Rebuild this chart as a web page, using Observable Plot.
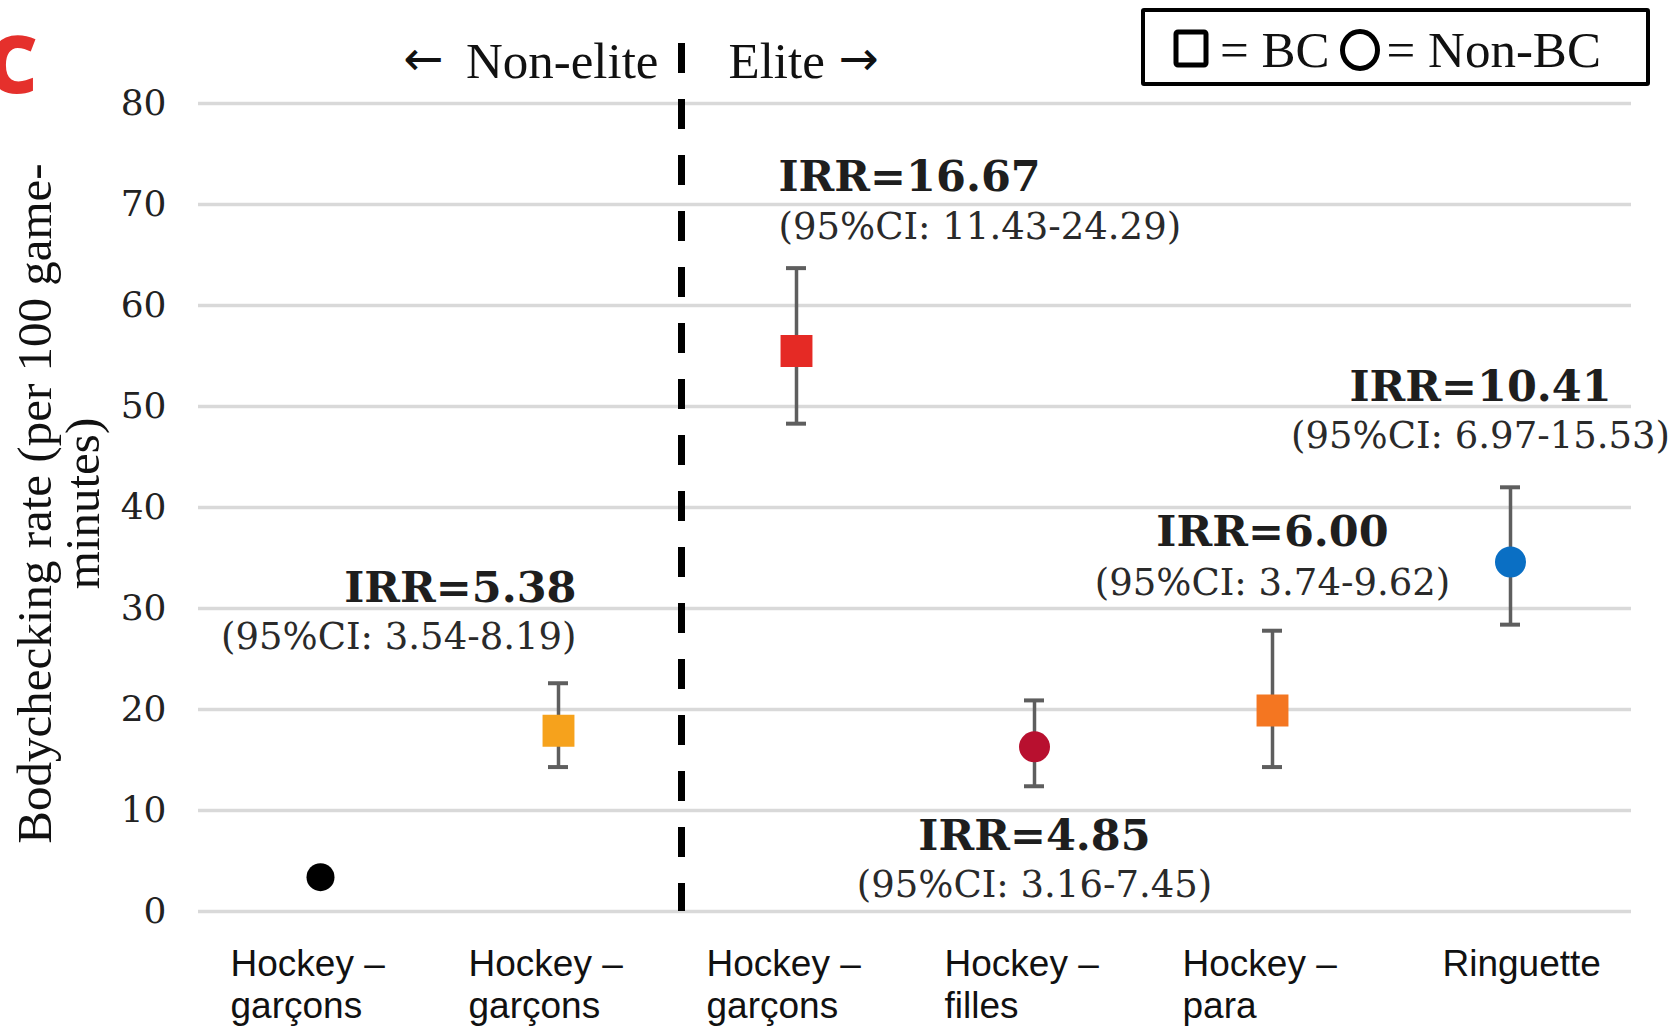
<!DOCTYPE html>
<html>
<head>
<meta charset="utf-8">
<script src="https://cdn.jsdelivr.net/npm/d3@7"></script>
<script src="https://cdn.jsdelivr.net/npm/@observablehq/plot@0.6"></script>
<style>
  html, body { margin: 0; padding: 0; background: #fff; }
  #wrap { position: relative; width: 1675px; height: 1031px; overflow: hidden; }
  #panel { position: absolute; left: -14px; top: 22px; font-family: "Open Sans", sans-serif; font-weight: 800; font-size: 80px; color: #e5302c; line-height: 1; }
  #legend { position: absolute; left: 1141px; top: 8px; width: 501px; height: 65px; border: 4.5px solid #000; border-radius: 3px;
            display: flex; align-items: center; padding-top: 5px; font-family: "Liberation Serif", serif; font-size: 51px; color: #111; box-sizing: content-box; }
  #legend svg { display: block; }
</style>
</head>
<body>
<div id="wrap">
  <div id="chart"></div>
  <div id="panel">C</div>
  <div id="legend">
    <svg width="40" height="50" style="margin-left:28px"><rect x="3" y="7" width="30" height="33" rx="2" fill="none" stroke="#000" stroke-width="5"/></svg>
    <span style="margin-left:7px">= BC</span>
    <svg width="46" height="50" style="margin-left:8px"><ellipse cx="22" cy="25" rx="17.5" ry="18.5" fill="none" stroke="#000" stroke-width="5"/></svg>
    <span style="margin-left:3px">= Non-BC</span>
  </div>
</div>
<script>
// ---- data ----
const keys = ["nonelite_garcons_nonbc", "nonelite_garcons_bc", "elite_garcons_bc", "elite_filles", "elite_para", "elite_ringuette"];
const labels = ["Hockey –\ngarçons", "Hockey –\ngarçons", "Hockey –\ngarçons", "Hockey –\nfilles", "Hockey –\npara", "Ringuette"];
const rates = [3.4, 17.9, 55.5, 16.3, 19.9, 34.6];
const ciLow = [null, 14.3, 48.3, 12.4, 14.3, 28.4];
const ciHigh = [null, 22.6, 63.7, 20.9, 27.8, 42.0];
const shapes = ["circle", "square", "square", "circle", "square", "circle"];
const colors = ["#000000", "#f6a21c", "#e52a25", "#b8102f", "#f47621", "#0a6fc4"];
const irrText = ["IRR=5.38", "IRR=16.67", "IRR=4.85", "IRR=6.00", "IRR=10.41"];
const irrCI = ["(95%CI: 3.54-8.19)", "(95%CI: 11.43-24.29)", "(95%CI: 3.16-7.45)", "(95%CI: 3.74-9.62)", "(95%CI: 6.97-15.53)"];
const irrFor = ["nonelite_garcons_bc", "elite_garcons_bc", "elite_filles", "elite_para", "elite_ringuette"];
const yTicks = [0, 10, 20, 30, 40, 50, 60, 70, 80];
const sectionLabels = ["Non-elite", "Elite"];
const arrows = ["←", "→"];

const rows = keys.map((k, i) => ({key: k, label: labels[i], rate: rates[i], lo: ciLow[i], hi: ciHigh[i], shape: shapes[i], color: colors[i]}));
const withCI = rows.filter(d => d.lo != null);
const byKey = Object.fromEntries(rows.map(d => [d.key, d]));

const serif = "DejaVu Serif";
const txtColor = "#1e1e1e";

function annot(i, {anchor, dx, above, dyBold, dyCI}) {
  const r = byKey[irrFor[i]];
  const yv = above ? r.hi : r.lo;
  const d = [{key: r.key, y: yv}];
  return [
    Plot.text(d, {x: "key", y: "y", text: () => irrText[i], textAnchor: anchor, dx, dy: dyBold, lineAnchor: "middle",
      fontFamily: serif, fontWeight: "bold", fontSize: 43, fill: txtColor}),
    Plot.text(d, {x: "key", y: "y", text: () => irrCI[i], textAnchor: anchor, dx, dy: dyCI, lineAnchor: "middle",
      fontFamily: serif, fontSize: 37, fill: "#2a2a2a"})
  ];
}

const chart = Plot.plot({
  width: 1675,
  height: 1031,
  marginTop: 103,
  marginBottom: 120,
  marginLeft: 198,
  marginRight: 44,
  style: {background: "#fff", overflow: "visible"},
  x: {type: "band", domain: keys, padding: 0, axis: null},
  y: {domain: [0, 80], axis: null},
  marks: [
    Plot.ruleY(yTicks, {y: d => d, stroke: "#d9d9d9", strokeWidth: 3.5}),
    Plot.text(yTicks, {y: d => d, frameAnchor: "left", textAnchor: "end", dx: -32, text: d => String(d),
      fontFamily: serif, fontSize: 36, fill: "#222", lineAnchor: "middle"}),
    // divider
    Plot.ruleX([keys[2]], {x: d => d, dx: -115, insetTop: -60, stroke: "#000", strokeWidth: 7, strokeDasharray: "30,26"}),
    Plot.text([keys[2]], {x: d => d, frameAnchor: "top", dx: -138, dy: -42, textAnchor: "end", text: () => sectionLabels[0],
      fontFamily: "Liberation Serif", fontSize: 51, fill: "#111", lineAnchor: "middle"}),
    Plot.text([keys[2]], {x: d => d, frameAnchor: "top", dx: -373, dy: -44, textAnchor: "middle", text: () => arrows[0],
      fontFamily: "DejaVu Sans", fontSize: 48, fill: "#111", lineAnchor: "middle"}),
    Plot.text([keys[2]], {x: d => d, frameAnchor: "top", dx: -68, dy: -42, textAnchor: "start", text: () => sectionLabels[1],
      fontFamily: "Liberation Serif", fontSize: 51, fill: "#111", lineAnchor: "middle"}),
    Plot.text([keys[2]], {x: d => d, frameAnchor: "top", dx: 62, dy: -44, textAnchor: "middle", text: () => arrows[1],
      fontFamily: "DejaVu Sans", fontSize: 48, fill: "#111", lineAnchor: "middle"}),
    // error bars
    Plot.ruleX(withCI, {x: "key", y1: "lo", y2: "hi", stroke: "#5e5e5e", strokeWidth: 3.5}),
    Plot.tickY(withCI, {x: "key", y: "lo", stroke: "#5e5e5e", strokeWidth: 4, insetLeft: 109, insetRight: 109}),
    Plot.tickY(withCI, {x: "key", y: "hi", stroke: "#5e5e5e", strokeWidth: 4, insetLeft: 109, insetRight: 109}),
    // markers
    Plot.dot(rows.filter(d => d.shape === "square"), {x: "key", y: "rate", symbol: "square", r: 18, fill: d => d.color, stroke: "none"}),
    Plot.dot(rows.filter(d => d.shape === "circle" && d.key !== keys[0]), {x: "key", y: "rate", symbol: "circle", r: 15.5, fill: d => d.color, stroke: "none"}),
    Plot.dot(rows.filter(d => d.key === keys[0]), {x: "key", y: "rate", symbol: "circle", r: 14, fill: d => d.color, stroke: "none"}),
    // annotations
    ...annot(0, {anchor: "end", dx: 18, above: true, dyBold: -95, dyCI: -46}),
    ...annot(1, {anchor: "start", dx: -18, above: true, dyBold: -91, dyCI: -41}),
    ...annot(2, {anchor: "middle", dx: 0, above: false, dyBold: 50, dyCI: 99}),
    ...annot(3, {anchor: "middle", dx: 0, above: true, dyBold: -98, dyCI: -48}),
    ...annot(4, {anchor: "middle", dx: -30, above: true, dyBold: -100, dyCI: -51}),
    // x labels
    Plot.text(rows.filter(d => d.label.includes("\n")), {x: "key", frameAnchor: "bottom", text: "label", textAnchor: "start", dx: -90, dy: 34,
      lineAnchor: "top", lineHeight: 1.15, fontFamily: "Liberation Sans", fontSize: 37, fill: "#111"}),
    Plot.text(rows.filter(d => !d.label.includes("\n")), {x: "key", frameAnchor: "bottom", text: "label", textAnchor: "start", dx: -68, dy: 34,
      lineAnchor: "top", lineHeight: 1.15, fontFamily: "Liberation Sans", fontSize: 37, fill: "#111"}),
    // y title
    Plot.text(["Bodychecking rate (per 100 game-\nminutes)"], {frameAnchor: "left", text: d => d, rotate: -90, dx: -139, dy: -4,
      textAnchor: "middle", lineAnchor: "middle", lineHeight: 0.98, fontFamily: "Liberation Serif", fontSize: 49, fill: "#111"})
  ]
});
document.getElementById("chart").appendChild(chart);
</script>
</body>
</html>
